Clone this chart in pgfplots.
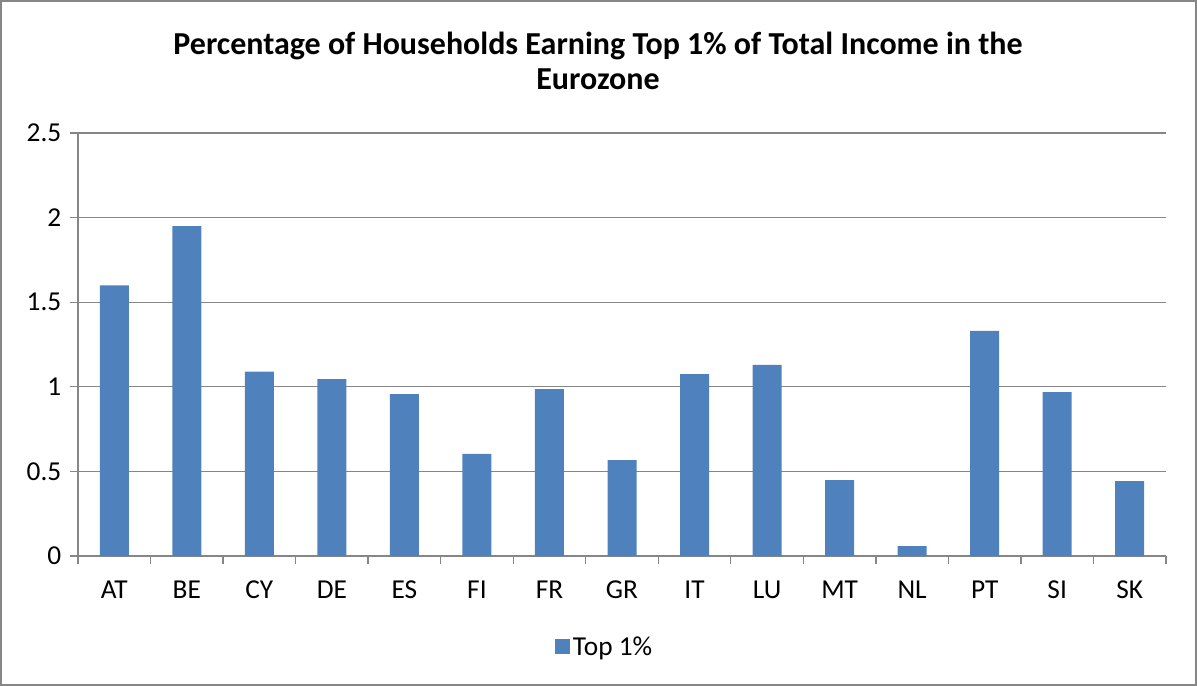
\documentclass[border=0pt]{standalone}
\usepackage{pgfplots}
\pgfplotsset{compat=1.18}
\usepackage{fontspec}
\setmainfont{Carlito}
\definecolor{barblue}{HTML}{4F81BD}
\definecolor{axgray}{HTML}{868686}
\begin{document}
\begin{tikzpicture}[x=1pt,y=1pt]
  % outer chart frame (1px = 0.75pt)
  \draw[axgray, line width=1.2pt] (-57.9,-96.9) rectangle (838.65,416.4);
  \node[font=\bfseries\fontsize{24}{26.25}\selectfont, align=center] at (390,371)
    {Percentage of Households Earning Top 1\% of Total Income in the\\Eurozone};
  \begin{axis}[
    at={(0,0)}, anchor=south west,
    scale only axis,
    width=816pt, height=317.25pt,
    ymin=0, ymax=2.5,
    ytick={0,0.5,1,1.5,2,2.5},
    xmin=-0.5, xmax=14.5,
    xtick={-0.5,0.5,...,14.5},
    xticklabels={AT,BE,CY,DE,ES,FI,FR,GR,IT,LU,MT,NL,PT,SI,SK},
    x tick label as interval,
    axis x line*=bottom,
    axis y line*=left,
    axis line style={axgray, line width=1pt},
    ymajorgrids,
    grid style={axgray, line width=0.8pt},
    tick align=outside,
    tick style={axgray, line width=1pt},
    major tick length=6pt,
    ticklabel style={font=\fontsize{20.5}{24}\selectfont, text=black},
    /pgf/number format/assume math mode=true,
    yticklabel style={xshift=-3pt},
    xticklabel style={yshift=-9pt},
    legend style={at={(0.4845,-0.215)}, anchor=center, draw=none,
      font=\fontsize{20.5}{24}\selectfont, legend cell align=left},
    legend image code/.code={\fill[barblue] (0pt,-5.6pt) rectangle (11.2pt,5.6pt);},
  ]
    \addplot[ybar, bar width=21.75pt, fill=barblue, draw=none] coordinates {
      (0,1.60) (1,1.95) (2,1.09) (3,1.045) (4,0.957) (5,0.603) (6,0.987)
      (7,0.567) (8,1.075) (9,1.13) (10,0.449) (11,0.059) (12,1.33)
      (13,0.969) (14,0.443)};
    \addlegendentry{Top 1\%}
  \end{axis}
\end{tikzpicture}
\end{document}
